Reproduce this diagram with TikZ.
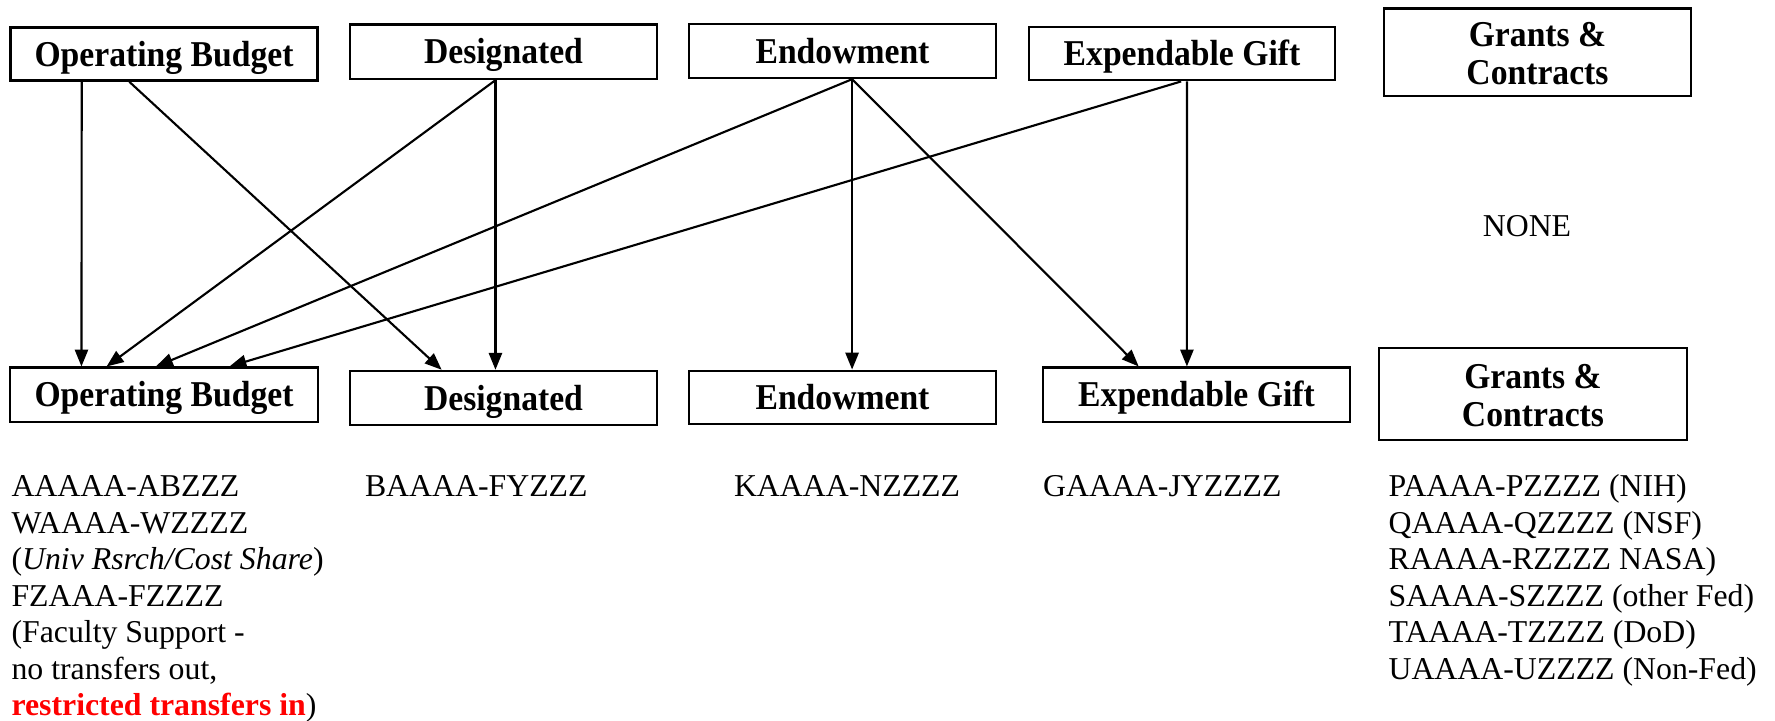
\documentclass[tikz,border=0pt]{standalone}
\usepackage{fontspec}
\setmainfont{Liberation Serif}
\usetikzlibrary{arrows.meta,calc}
\definecolor{redtxt}{RGB}{255,0,0}
\newcommand{\boxlbl}[1]{\scalebox{1}[1.08]{#1}}
\newcommand{\twolbl}[2]{\raisebox{-2.2pt}[\height][\depth]{\scalebox{1}[1.08]{\begin{tabular}{@{}c@{}}#1\\#2\end{tabular}}}}
\begin{document}
\begin{tikzpicture}[x=0.37736pt,y=-0.37736pt,
  box/.style={draw,line width=0.9pt,font=\fontsize{12.7}{13.1}\selectfont\bfseries,align=center,inner sep=0pt},
  one/.style={text height=9.08pt,text depth=0pt},
  lst/.style={font=\fontsize{12}{13.8}\selectfont,align=left,anchor=north west,inner sep=0pt},
  arr/.style={-{Triangle[length=6.4pt,width=5pt]},line width=0.8pt}]
\useasboundingbox (0,0) rectangle (1775,721);
% top row
\node[box,one,minimum width=115.8pt,minimum height=20.1pt] (tOB) at (164,54) {\boxlbl{Operating Budget}};
\node[box,one,minimum width=115.8pt,minimum height=20.6pt] (tD) at (503.5,51.7) {\boxlbl{Designated}};
\node[box,one,minimum width=115.8pt,minimum height=20.4pt] (tE) at (842.5,51) {\boxlbl{Endowment}};
\node[box,one,minimum width=115.5pt,minimum height=20.2pt] (tEG) at (1182,53.5) {\boxlbl{Expendable Gift}};
\node[box,minimum width=115.8pt,minimum height=33.1pt] (tGC) at (1537.5,52.2) {\twolbl{Grants \&}{Contracts}};
% bottom row
\node[box,one,minimum width=116.2pt,minimum height=20.4pt] (bOB) at (164,394.7) {\boxlbl{Operating Budget}};
\node[box,one,minimum width=115.8pt,minimum height=20.4pt] (bD) at (503.5,398) {\boxlbl{Designated}};
\node[box,one,minimum width=115.8pt,minimum height=20.2pt] (bE) at (842.5,397.5) {\boxlbl{Endowment}};
\node[box,one,minimum width=115.8pt,minimum height=20.4pt] (bEG) at (1196.5,394.7) {\boxlbl{Expendable Gift}};
\node[box,minimum width=116.2pt,minimum height=34.7pt] (bGC) at (1533,394) {\twolbl{Grants \&}{Contracts}};
% NONE
\node[font=\fontsize{12}{13.8}\selectfont,inner sep=0pt] (none) at (1527,226) {NONE};
% arrows
\draw[arr] ($(tOB.south west)!0.234!(tOB.south east)$) -- ($(bOB.north west)!0.234!(bOB.north east)$);
\draw[arr] ($(tOB.south west)!0.388!(tOB.south east)$) -- ($(bD.north west)!0.300!(bD.north east)$);
\draw[arr] ($(tD.south west)!0.474!(tD.south east)$) -- ($(bD.north west)!0.474!(bD.north east)$);
\draw[arr] ($(tD.south west)!0.474!(tD.south east)$) -- ($(bOB.north west)!0.315!(bOB.north east)$);
\draw[arr] ($(tE.south west)!0.531!(tE.south east)$) -- ($(bE.north west)!0.531!(bE.north east)$);
\draw[arr] ($(tE.south west)!0.531!(tE.south east)$) -- ($(bOB.north west)!0.474!(bOB.north east)$);
\draw[arr] ($(tE.south west)!0.531!(tE.south east)$) -- ($(bEG.north west)!0.313!(bEG.north east)$);
\draw[arr] ($(tEG.south west)!0.497!(tEG.south east)$) -- ($(bOB.north west)!0.711!(bOB.north east)$);
\draw[arr] ($(tEG.south west)!0.516!(tEG.south east)$) -- ($(bEG.north west)!0.469!(bEG.north east)$);
% lists
\node[lst] (lOB) at (11,470.4) {\strut AAAAA-ABZZZ\\WAAAA-WZZZZ\\(\textit{Univ Rsrch/Cost Share})\\FZAAA-FZZZZ\\(Faculty Support -\\no transfers out,\\\textcolor{redtxt}{\textbf{restricted transfers in}})};
\node[lst] (lD) at (364.5,470.4) {\strut BAAAA-FYZZZ};
\node[lst] (lE) at (733.5,470.4) {\strut KAAAA-NZZZZ};
\node[lst] (lEG) at (1042.6,470.4) {\strut GAAAA-JYZZZZ};
\node[lst] (lGC) at (1388,470.4) {\strut PAAAA-PZZZZ (NIH)\\QAAAA-QZZZZ (NSF)\\RAAAA-RZZZZ NASA)\\SAAAA-SZZZZ (other Fed)\\TAAAA-TZZZZ (DoD)\\UAAAA-UZZZZ (Non-Fed)};
\end{tikzpicture}
\end{document}
